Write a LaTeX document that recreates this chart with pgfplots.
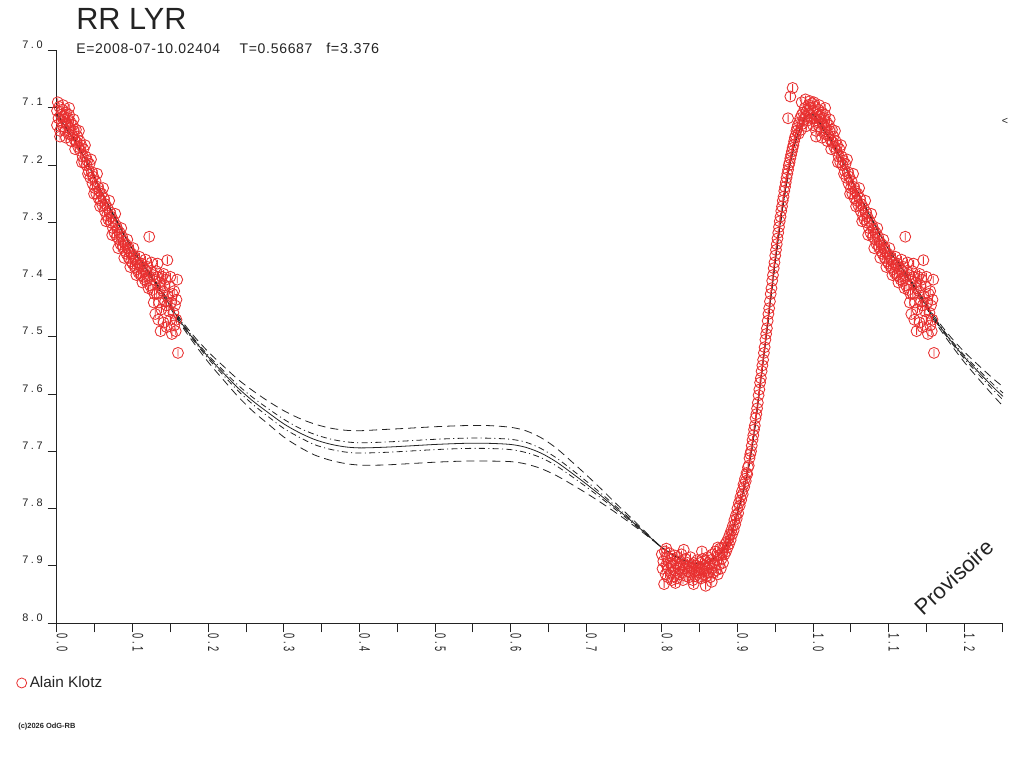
\documentclass[border=0pt]{standalone}
\usepackage{pgfplots}
\pgfplotsset{compat=1.18}
\usepackage{pgfplotstable}
\usepackage{fontspec}
\setmainfont{Liberation Sans}
\newfontfamily\ylabfont[LetterSpace=24]{Liberation Sans}
\newfontfamily\xlabfont[FakeStretch=0.6,LetterSpace=18]{Liberation Sans}
\newfontfamily\subfont[LetterSpace=5]{Liberation Sans}
\definecolor{ptred}{RGB}{232,48,48}
\definecolor{ink}{RGB}{35,35,35}
\pgfdeclareplotmark{oi}{%
  \pgfpathcircle{\pgfpointorigin}{\pgfplotmarksize}%
  \pgfpathmoveto{\pgfqpoint{0pt}{-0.7\pgfplotmarksize}}%
  \pgfpathlineto{\pgfqpoint{0pt}{0.7\pgfplotmarksize}}%
  \pgfusepathqstroke}

\pgfplotstableread[row sep=\\]{
p m\\
0.000 7.105\\ 0.000 7.130\\ 0.002 7.118\\ 0.003 7.098\\ 0.004 7.140\\ 0.005 7.112\\ 0.006 7.125\\ 0.007 7.103\\
0.008 7.132\\ 0.009 7.115\\ 0.010 7.120\\ 0.011 7.140\\ 0.012 7.108\\ 0.013 7.128\\ 0.014 7.118\\ 0.015 7.145\\
0.016 7.112\\ 0.017 7.135\\ 0.018 7.125\\ 0.020 7.148\\ 0.021 7.130\\ 0.022 7.140\\ 0.023 7.155\\ 0.025 7.138\\
0.026 7.160\\ 0.027 7.150\\ 0.028 7.168\\ 0.030 7.158\\ 0.031 7.175\\ 0.032 7.165\\ 0.034 7.185\\ 0.035 7.172\\
0.036 7.195\\ 0.038 7.185\\ 0.039 7.200\\ 0.040 7.192\\ 0.042 7.210\\ 0.043 7.198\\ 0.044 7.222\\ 0.046 7.212\\
0.047 7.232\\ 0.048 7.220\\ 0.050 7.240\\ 0.051 7.228\\ 0.052 7.250\\ 0.054 7.238\\ 0.055 7.258\\ 0.056 7.245\\
0.058 7.262\\ 0.059 7.250\\ 0.060 7.270\\ 0.062 7.258\\ 0.063 7.280\\ 0.064 7.268\\ 0.066 7.288\\ 0.067 7.275\\
0.068 7.295\\ 0.070 7.282\\ 0.071 7.300\\ 0.072 7.290\\ 0.074 7.310\\ 0.075 7.298\\ 0.076 7.318\\ 0.078 7.305\\
0.079 7.325\\ 0.080 7.312\\ 0.082 7.330\\ 0.083 7.318\\ 0.084 7.338\\ 0.086 7.325\\ 0.087 7.342\\ 0.088 7.333\\
0.090 7.350\\ 0.091 7.338\\ 0.092 7.355\\ 0.094 7.345\\ 0.095 7.362\\ 0.096 7.350\\ 0.098 7.368\\ 0.099 7.355\\
0.100 7.372\\ 0.102 7.360\\ 0.103 7.378\\ 0.104 7.365\\ 0.106 7.382\\ 0.107 7.370\\ 0.108 7.388\\ 0.110 7.375\\
0.111 7.392\\ 0.112 7.372\\ 0.114 7.395\\ 0.115 7.380\\ 0.116 7.400\\ 0.118 7.385\\ 0.119 7.402\\ 0.120 7.378\\
0.122 7.325\\ 0.122 7.395\\ 0.123 7.410\\ 0.124 7.385\\ 0.126 7.418\\ 0.127 7.392\\ 0.128 7.440\\ 0.129 7.400\\
0.130 7.460\\ 0.131 7.385\\ 0.132 7.425\\ 0.133 7.395\\ 0.134 7.470\\ 0.135 7.440\\ 0.136 7.405\\ 0.137 7.490\\
0.138 7.452\\ 0.139 7.395\\ 0.140 7.420\\ 0.141 7.475\\ 0.142 7.410\\ 0.143 7.438\\ 0.144 7.400\\ 0.145 7.483\\
0.146 7.366\\ 0.147 7.430\\ 0.148 7.455\\ 0.149 7.412\\ 0.150 7.470\\ 0.151 7.440\\ 0.152 7.495\\ 0.153 7.425\\
0.154 7.458\\ 0.155 7.480\\ 0.156 7.445\\ 0.157 7.490\\ 0.158 7.470\\ 0.159 7.400\\ 0.160 7.528\\
0.001 7.090\\ 0.004 7.150\\ 0.008 7.095\\ 0.012 7.152\\ 0.016 7.100\\ 0.019 7.158\\ 0.022 7.120\\ 0.024 7.172\\
0.029 7.140\\ 0.033 7.195\\ 0.037 7.165\\ 0.041 7.215\\ 0.045 7.190\\ 0.049 7.250\\ 0.053 7.215\\ 0.057 7.272\\
0.061 7.240\\ 0.065 7.298\\ 0.069 7.262\\ 0.073 7.322\\ 0.077 7.285\\ 0.081 7.345\\ 0.085 7.310\\ 0.089 7.362\\
0.093 7.330\\ 0.097 7.378\\ 0.101 7.345\\ 0.105 7.392\\ 0.109 7.360\\ 0.113 7.405\\ 0.117 7.365\\ 0.121 7.415\\
0.125 7.370\\ 0.129 7.425\\ 0.133 7.372\\ 0.137 7.415\\ 0.141 7.390\\ 0.145 7.445\\ 0.150 7.395\\ 0.155 7.420\\
0.158 7.435\\
}\segA

\pgfplotstableread[row sep=\\]{
p m\\
0.800 7.880\\ 0.801 7.905\\ 0.802 7.892\\ 0.803 7.932\\ 0.804 7.875\\ 0.805 7.915\\ 0.806 7.898\\ 0.807 7.885\\
0.808 7.920\\ 0.809 7.905\\ 0.810 7.878\\ 0.811 7.895\\ 0.812 7.912\\ 0.813 7.925\\ 0.814 7.888\\ 0.815 7.900\\
0.816 7.918\\ 0.817 7.882\\ 0.818 7.908\\ 0.819 7.895\\ 0.820 7.922\\ 0.821 7.885\\ 0.822 7.905\\ 0.823 7.915\\
0.824 7.892\\ 0.825 7.900\\ 0.826 7.880\\ 0.827 7.912\\ 0.828 7.925\\ 0.829 7.898\\ 0.830 7.905\\ 0.831 7.888\\
0.832 7.918\\ 0.833 7.902\\ 0.834 7.895\\ 0.835 7.910\\ 0.836 7.920\\ 0.837 7.900\\ 0.838 7.885\\ 0.839 7.912\\
0.840 7.905\\ 0.841 7.925\\ 0.842 7.895\\ 0.843 7.910\\ 0.844 7.918\\ 0.845 7.900\\ 0.846 7.908\\ 0.847 7.890\\
0.848 7.920\\ 0.849 7.902\\ 0.850 7.912\\ 0.851 7.895\\ 0.852 7.922\\ 0.853 7.905\\ 0.854 7.888\\ 0.855 7.915\\
0.856 7.900\\ 0.857 7.910\\ 0.858 7.892\\ 0.859 7.918\\ 0.860 7.905\\ 0.861 7.885\\ 0.862 7.912\\ 0.863 7.898\\
0.864 7.920\\ 0.865 7.890\\ 0.866 7.905\\ 0.867 7.880\\ 0.868 7.912\\ 0.869 7.895\\ 0.870 7.900\\ 0.871 7.875\\
0.872 7.908\\ 0.873 7.890\\ 0.874 7.915\\ 0.875 7.882\\ 0.876 7.898\\ 0.877 7.870\\ 0.878 7.905\\ 0.879 7.888\\
0.880 7.878\\ 0.881 7.895\\ 0.882 7.868\\ 0.883 7.880\\ 0.884 7.862\\ 0.885 7.875\\ 0.886 7.858\\ 0.887 7.868\\
0.888 7.852\\ 0.889 7.862\\ 0.890 7.845\\ 0.891 7.855\\ 0.892 7.838\\ 0.893 7.845\\ 0.894 7.830\\ 0.895 7.838\\
0.896 7.820\\ 0.897 7.828\\ 0.898 7.812\\ 0.899 7.818\\ 0.900 7.800\\ 0.901 7.808\\ 0.902 7.790\\ 0.903 7.795\\
0.904 7.780\\ 0.905 7.785\\ 0.906 7.770\\ 0.907 7.775\\ 0.908 7.758\\ 0.909 7.762\\ 0.910 7.748\\ 0.911 7.752\\
0.912 7.738\\ 0.913 7.740\\ 0.914 7.728\\ 0.915 7.725\\ 0.916 7.712\\ 0.917 7.705\\ 0.918 7.700\\ 0.919 7.690\\
0.920 7.680\\ 0.921 7.672\\ 0.922 7.662\\ 0.923 7.655\\ 0.924 7.642\\ 0.925 7.635\\ 0.926 7.625\\ 0.927 7.615\\
0.928 7.602\\ 0.929 7.592\\ 0.930 7.580\\ 0.931 7.572\\ 0.932 7.560\\ 0.933 7.550\\ 0.934 7.540\\ 0.935 7.528\\
0.936 7.518\\ 0.937 7.505\\ 0.938 7.495\\ 0.939 7.485\\ 0.940 7.472\\ 0.941 7.460\\ 0.942 7.450\\ 0.943 7.438\\
0.944 7.425\\ 0.945 7.415\\ 0.946 7.402\\ 0.947 7.392\\ 0.948 7.380\\ 0.949 7.370\\ 0.950 7.358\\ 0.951 7.348\\
0.952 7.338\\ 0.953 7.328\\ 0.954 7.318\\ 0.955 7.308\\ 0.956 7.298\\ 0.957 7.290\\ 0.958 7.280\\ 0.959 7.272\\
0.960 7.262\\ 0.961 7.255\\ 0.962 7.245\\ 0.963 7.238\\ 0.964 7.230\\ 0.965 7.222\\ 0.966 7.215\\ 0.967 7.118\\
0.967 7.208\\ 0.968 7.200\\ 0.969 7.195\\ 0.970 7.080\\ 0.970 7.188\\ 0.971 7.182\\ 0.972 7.176\\ 0.973 7.065\\
0.973 7.170\\ 0.974 7.165\\ 0.975 7.158\\ 0.976 7.152\\ 0.977 7.148\\ 0.978 7.140\\ 0.979 7.135\\ 0.980 7.130\\
0.981 7.145\\ 0.982 7.125\\ 0.983 7.118\\ 0.984 7.138\\ 0.985 7.112\\ 0.986 7.128\\ 0.987 7.108\\ 0.988 7.120\\
0.989 7.100\\ 0.990 7.115\\ 0.991 7.132\\ 0.992 7.105\\ 0.993 7.122\\ 0.994 7.095\\ 0.995 7.110\\ 0.996 7.088\\
0.997 7.100\\ 0.998 7.118\\ 0.999 7.092\\ 0.985 7.090\\ 0.990 7.085\\
0.806 7.870\\ 0.818 7.930\\ 0.829 7.872\\ 0.842 7.932\\ 0.853 7.875\\ 0.866 7.928\\ 0.874 7.868\\ 0.858 7.935\\
}\segB

\pgfplotstableread[row sep=\\]{
p m s t\\
0.00 7.112 0.002 0.001\\ 0.02 7.150 0.002 0.001\\ 0.04 7.195 0.002 0.001\\ 0.06 7.250 0.002 0.001\\
0.08 7.300 0.002 0.001\\ 0.10 7.347 0.002 0.001\\ 0.12 7.385 0.003 0.001\\ 0.14 7.425 0.003 0.001\\
0.16 7.467 0.004 0.002\\ 0.18 7.503 0.006 0.002\\ 0.20 7.535 0.009 0.003\\ 0.22 7.563 0.012 0.004\\
0.24 7.590 0.015 0.005\\ 0.26 7.613 0.018 0.006\\ 0.28 7.633 0.020 0.007\\ 0.30 7.652 0.023 0.008\\
0.32 7.667 0.025 0.008\\ 0.34 7.679 0.027 0.009\\ 0.36 7.687 0.028 0.009\\ 0.38 7.692 0.029 0.009\\
0.40 7.694 0.030 0.009\\ 0.43 7.693 0.031 0.009\\ 0.46 7.691 0.031 0.009\\ 0.50 7.688 0.031 0.009\\
0.54 7.686 0.031 0.009\\ 0.57 7.686 0.031 0.009\\ 0.60 7.688 0.030 0.009\\ 0.62 7.693 0.029 0.009\\
0.64 7.703 0.027 0.008\\ 0.66 7.718 0.024 0.007\\ 0.68 7.737 0.020 0.006\\ 0.70 7.757 0.016 0.005\\
0.72 7.778 0.012 0.004\\ 0.74 7.800 0.008 0.003\\ 0.76 7.822 0.005 0.002\\ 0.78 7.845 0.002 0.001\\
0.80 7.868 0.000 0.000\\ 0.82 7.885 0.001 0.000\\ 0.84 7.895 0.001 0.000\\ 0.86 7.895 0.001 0.000\\
0.88 7.875 0.001 0.000\\ 0.89 7.852 0.001 0.000\\ 0.90 7.808 0.001 0.000\\ 0.91 7.758 0.001 0.000\\
0.92 7.688 0.001 0.000\\ 0.93 7.585 0.001 0.000\\ 0.94 7.478 0.001 0.000\\ 0.95 7.368 0.001 0.000\\
0.96 7.272 0.001 0.000\\ 0.97 7.195 0.001 0.000\\ 0.98 7.145 0.001 0.000\\ 0.99 7.118 0.001 0.000\\
1.00 7.112 0.002 0.001\\ 1.02 7.150 0.002 0.001\\ 1.04 7.195 0.002 0.001\\ 1.06 7.250 0.002 0.001\\
1.08 7.300 0.002 0.001\\ 1.10 7.347 0.002 0.001\\ 1.12 7.385 0.003 0.001\\ 1.14 7.425 0.003 0.001\\
1.16 7.467 0.004 0.002\\ 1.18 7.503 0.006 0.002\\ 1.20 7.535 0.009 0.003\\ 1.22 7.563 0.012 0.004\\
1.24 7.590 0.015 0.005\\ 1.2513 7.604 0.017 0.006\\
}\fit

\begin{document}
\begin{tikzpicture}
\path[use as bounding box] (0pt,0pt) rectangle (768pt,576pt);
\begin{axis}[
  at={(42.75pt,108.75pt)}, anchor=south west,
  scale only axis, width=709.5pt, height=429.2pt,
  xmin=0, xmax=1.2513, ymin=7.0, ymax=8.0, y dir=reverse,
  axis x line*=bottom, axis y line*=left,
  axis line style={line width=0.75pt, draw=ink},
  tick align=outside, major tick length=7pt, minor tick length=7pt,
  every tick/.style={line width=0.75pt, draw=ink},
  xtick={0,0.1,0.2,0.3,0.4,0.5,0.6,0.7,0.8,0.9,1.0,1.1,1.2},
  xticklabels={0.0,0.1,0.2,0.3,0.4,0.5,0.6,0.7,0.8,0.9,1.0,1.1,1.2},
  minor xtick={0.05,0.15,0.25,0.35,0.45,0.55,0.65,0.75,0.85,0.95,1.05,1.15,1.25},
  ytick={7.0,7.1,7.2,7.3,7.4,7.5,7.6,7.7,7.8,7.9,8.0},
  yticklabels={7.0,7.1,7.2,7.3,7.4,7.5,7.6,7.7,7.8,7.9,8.0},
  xticklabel style={font=\xlabfont\fontsize{11.5pt}{12pt}\selectfont, text=ink, rotate=-90, anchor=base west, inner sep=0pt, xshift=0.75pt},
  yticklabel style={font=\ylabfont\fontsize{8.2pt}{9pt}\selectfont, text=ink, anchor=base east, inner sep=0pt, xshift=-3.5pt, yshift=1.5pt},
  clip=false,
  legend style={at={(axis description cs:-0.0433,-0.1048)}, anchor=west, draw=none, fill=none,
    inner sep=0pt, font=\fontsize{11.5pt}{12pt}\selectfont, text=ink},
  legend cell align=left,
  legend image code/.code={\draw[ptred, line width=0.6pt] (3.75pt,0pt) circle (3.75pt);},
]
\addplot[forget plot, smooth, ink, line width=0.6pt] table[x=p, y=m]{\fit};
\addplot[forget plot, smooth, ink, line width=0.6pt, dash pattern=on 4.5pt off 2.5pt on 0.8pt off 2.5pt] table[x=p, y expr=\thisrow{m}-\thisrow{t}]{\fit};
\addplot[forget plot, smooth, ink, line width=0.6pt, dash pattern=on 4.5pt off 2.5pt on 0.8pt off 2.5pt] table[x=p, y expr=\thisrow{m}+\thisrow{t}]{\fit};
\addplot[forget plot, smooth, ink, line width=0.6pt, dash pattern=on 6pt off 3.75pt] table[x=p, y expr=\thisrow{m}-\thisrow{s}]{\fit};
\addplot[forget plot, smooth, ink, line width=0.6pt, dash pattern=on 6pt off 3.75pt] table[x=p, y expr=\thisrow{m}+\thisrow{s}]{\fit};
\addplot[only marks, mark=oi, mark size=4.1pt, ptred, line width=0.65pt] table[x=p, y=m]{\segA};
\addlegendentry{Alain Klotz}
\addplot[forget plot, only marks, mark=oi, mark size=4.1pt, ptred, line width=0.65pt] table[x expr=\thisrow{p}+1, y=m]{\segA};
\addplot[forget plot, only marks, mark=oi, mark size=4.1pt, ptred, line width=0.65pt] table[x=p, y=m]{\segB};
\end{axis}
\node[anchor=base west, inner sep=0pt, text=ink, font=\fontsize{23pt}{24pt}\selectfont] at (57pt,553.5pt) {RR LYR};
\node[anchor=base west, inner sep=0pt, text=ink, font=\subfont\fontsize{10.5pt}{12pt}\selectfont] at (57pt,535.5pt) {E=2008-07-10.02404};
\node[anchor=base west, inner sep=0pt, text=ink, font=\subfont\fontsize{10.5pt}{12pt}\selectfont] at (179.5pt,535.5pt) {T=0.56687};
\node[anchor=base west, inner sep=0pt, text=ink, font=\subfont\fontsize{10.8pt}{12pt}\selectfont] at (244.5pt,535.5pt) {f=3.376};
\node[inner sep=0pt, text=ink, rotate=43, font=\fontsize{16.5pt}{18pt}\selectfont] at (715.5pt,143.25pt) {Provisoire};
\node[inner sep=0pt, text=ink, font=\fontsize{8pt}{9pt}\selectfont] at (753.75pt,485.25pt) {<};
\node[anchor=base west, inner sep=0pt, text=ink, font=\bfseries\fontsize{5.6pt}{6pt}\selectfont] at (13.5pt,30pt) {(c)2026 OdG-RB};
\end{tikzpicture}
\end{document}
